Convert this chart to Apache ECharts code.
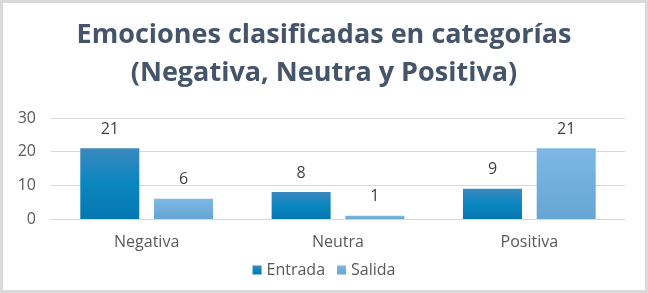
<!DOCTYPE html>
<html>
<head>
<meta charset="utf-8">
<script src="https://cdn.jsdelivr.net/npm/echarts@6/dist/echarts.min.js"></script>
<style>
  html, body { margin: 0; padding: 0; background: #fff; }
  #chart {
    width: 648px;
    height: 293px;
    box-sizing: border-box;
    border: 3px solid #d9d9d9;
  }
</style>
</head>
<body>
<div id="chart"></div>
<script>
const categories = ["Negativa", "Neutra", "Positiva"];
const entrada = [21, 8, 9];
const salida = [6, 1, 21];
const yTicks = [0, 10, 20, 30];

const chart = echarts.init(document.getElementById("chart"));

const font = "'Open Sans', 'Noto Sans', sans-serif";

let option = {
  animation: false,
  textStyle: { fontFamily: font },
  title: {
    text: "Emociones clasificadas en categorías\n(Negativa, Neutra y Positiva)",
    left: "center",
    top: 8,
    textStyle: {
      fontFamily: font,
      fontSize: 27,
      fontWeight: "bold",
      color: "#44546a",
      lineHeight: 38
    }
  },
  legend: {
    data: ["Entrada", "Salida"],
    bottom: 7,
    left: "center",
    icon: "rect",
    itemWidth: 9,
    itemHeight: 9,
    itemGap: 12,
    textStyle: { fontFamily: font, fontSize: 16, color: "#595959" }
  },
  grid: {
    left: 48,
    right: 20,
    top: 115,
    bottom: 71
  },
  xAxis: {
    type: "category",
    data: categories,
    axisLine: { lineStyle: { color: "#d9d9d9" } },
    axisTick: { show: false },
    axisLabel: { fontSize: 16, color: "#595959", margin: 15 }
  },
  yAxis: {
    type: "value",
    min: yTicks[0],
    max: yTicks[yTicks.length - 1],
    interval: 10,
    axisLine: { show: false },
    axisTick: { show: false },
    splitLine: { lineStyle: { color: "#d9d9d9" } },
    axisLabel: { fontSize: 16, color: "#595959", margin: 15 }
  },
  series: [
    {
      name: "Entrada",
      type: "bar",
      data: entrada,
      barWidth: 59,
      barGap: "25%",
      itemStyle: {
        color: new echarts.graphic.LinearGradient(0, 0, 0, 1, [
          { offset: 0, color: "#3a88be" },
          { offset: 0.5, color: "#0a86bf" },
          { offset: 1, color: "#0577b0" }
        ])
      },
      label: { show: true, position: "top", distance: 11, fontSize: 16, color: "#404040" }
    },
    {
      name: "Salida",
      type: "bar",
      data: salida,
      barWidth: 59,
      itemStyle: {
        color: new echarts.graphic.LinearGradient(0, 0, 0, 1, [
          { offset: 0, color: "#7db9e3" },
          { offset: 1, color: "#66a5d5" }
        ])
      },
      label: { show: true, position: "top", distance: 11, fontSize: 16, color: "#404040" }
    }
  ]
};
chart.setOption(option);
</script>
</body>
</html>
